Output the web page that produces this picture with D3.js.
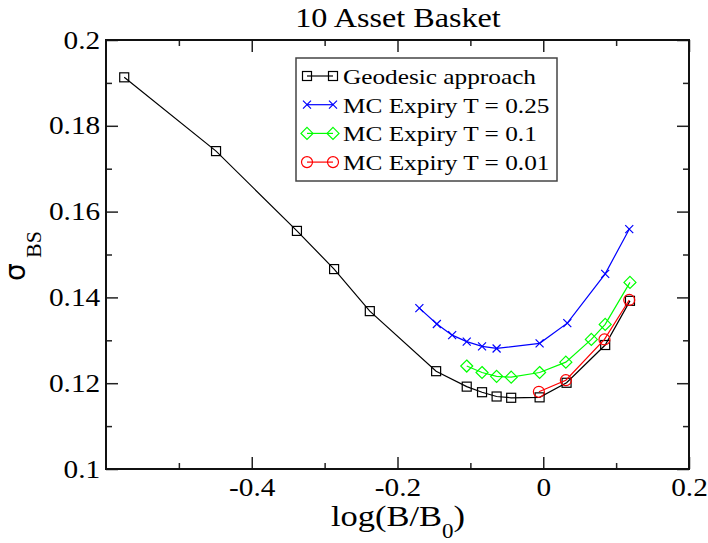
<!DOCTYPE html>
<html>
<head>
<meta charset="utf-8">
<script src="https://cdn.jsdelivr.net/npm/d3@7"></script>
<style>
  body { margin: 0; background: #fff; }
  text { font-family: "Liberation Serif", "Times New Roman", serif; fill: #000; }
</style>
</head>
<body>
<script>
"use strict";

// --- data ---
let geoX  = [-0.575, -0.449, -0.338, -0.287, -0.238, -0.147, -0.105, -0.084, -0.064, -0.044, -0.005, 0.032, 0.085, 0.119];
let geoY  = [0.1913, 0.1741, 0.1555, 0.1466, 0.1368, 0.1228, 0.1192, 0.1179, 0.1169, 0.1166, 0.1167, 0.1201, 0.1289, 0.1392];

let t25X  = [-0.170, -0.146, -0.125, -0.105, -0.084, -0.064, -0.005, 0.033, 0.085, 0.118];
let t25Y  = [0.1375, 0.1338, 0.1312, 0.1297, 0.1286, 0.1281, 0.1293, 0.1340, 0.1455, 0.1559];

let t10X  = [-0.105, -0.084, -0.064, -0.044, -0.005, 0.031, 0.066, 0.085, 0.119];
let t10Y  = [0.1240, 0.1225, 0.1216, 0.1214, 0.1225, 0.1249, 0.1302, 0.1337, 0.1435];

let t01X  = [-0.006, 0.031, 0.084, 0.118];
let t01Y  = [0.1180, 0.1207, 0.1302, 0.1394];

let xMajor = [-0.4, -0.2, 0, 0.2];
let xMinor = [-0.5, -0.3, -0.1, 0.1];
let yMajor = [0.1, 0.12, 0.14, 0.16, 0.18, 0.2];
let yMinor = [0.11, 0.13, 0.15, 0.17, 0.19];

let legendLabels = ['Geodesic approach', 'MC Expiry T = 0.25', 'MC Expiry T = 0.1', 'MC Expiry T = 0.01'];

(function() {

let width = 708;
let height = 543;
let stretch = 1.15;   // glyphs in the picture are wider than Times

let pLeft = 106, pRight = 689, pTop = 40, pBottom = 469;

let x = d3.scaleLinear().domain([-0.6, 0.2]).range([pLeft, pRight]);
let y = d3.scaleLinear().domain([0.1, 0.2]).range([pBottom, pTop]);

let svg = d3.select('body')
    .append('svg')
    .attr('width', width)
    .attr('height', height);

// axes: major ticks with labels, minor ticks, mirrored on top and right
function styleAxis(g) {
    g.select('.domain').remove();
    g.selectAll('line').attr('stroke', '#222').attr('stroke-width', 1.5);
    g.selectAll('text')
        .style('font-size', '25.5px')
        .attr('fill', '#000')
        .attr('transform', 'scale(' + stretch + ',1)');
}

let fmt = function(d) { return String(+d.toFixed(2)); };

svg.append('g')
    .attr('transform', 'translate(0,' + pBottom + ')')
    .call(d3.axisBottom(x).tickValues(xMajor).tickSize(-12).tickSizeOuter(0).tickPadding(9).tickFormat(fmt))
    .call(styleAxis);
svg.append('g')
    .attr('transform', 'translate(0,' + pBottom + ')')
    .call(d3.axisBottom(x).tickValues(xMinor).tickSize(-6).tickSizeOuter(0).tickFormat(''))
    .call(styleAxis);
svg.append('g')
    .attr('transform', 'translate(0,' + pTop + ')')
    .call(d3.axisTop(x).tickValues(xMajor).tickSize(-12).tickSizeOuter(0).tickFormat(''))
    .call(styleAxis);
svg.append('g')
    .attr('transform', 'translate(0,' + pTop + ')')
    .call(d3.axisTop(x).tickValues(xMinor).tickSize(-6).tickSizeOuter(0).tickFormat(''))
    .call(styleAxis);

svg.append('g')
    .attr('transform', 'translate(' + pLeft + ',0)')
    .call(d3.axisLeft(y).tickValues(yMajor).tickSize(-12).tickSizeOuter(0).tickPadding(5).tickFormat(fmt))
    .call(styleAxis);
svg.append('g')
    .attr('transform', 'translate(' + pLeft + ',0)')
    .call(d3.axisLeft(y).tickValues(yMinor).tickSize(-6).tickSizeOuter(0).tickFormat(''))
    .call(styleAxis);
svg.append('g')
    .attr('transform', 'translate(' + pRight + ',0)')
    .call(d3.axisRight(y).tickValues(yMajor).tickSize(-12).tickSizeOuter(0).tickFormat(''))
    .call(styleAxis);
svg.append('g')
    .attr('transform', 'translate(' + pRight + ',0)')
    .call(d3.axisRight(y).tickValues(yMinor).tickSize(-6).tickSizeOuter(0).tickFormat(''))
    .call(styleAxis);

// frame
svg.append('rect')
    .attr('x', pLeft)
    .attr('y', pTop)
    .attr('width', pRight - pLeft)
    .attr('height', pBottom - pTop)
    .attr('fill', 'none')
    .attr('stroke', '#111')
    .attr('stroke-width', 2);

// symbols
let symbols = {
    square: function(g, cx, cy) {
        return g.append('rect').attr('x', cx - 4.5).attr('y', cy - 4.5).attr('width', 9).attr('height', 9);
    },
    cross: function(g, cx, cy) {
        return g.append('path').attr('d', 'M' + (cx - 4) + ',' + (cy - 4) + 'L' + (cx + 4) + ',' + (cy + 4) +
            'M' + (cx - 4) + ',' + (cy + 4) + 'L' + (cx + 4) + ',' + (cy - 4));
    },
    diamond: function(g, cx, cy) {
        return g.append('path').attr('d', 'M' + cx + ',' + (cy - 6) + 'L' + (cx + 6) + ',' + cy +
            'L' + cx + ',' + (cy + 6) + 'L' + (cx - 6) + ',' + cy + 'Z');
    },
    circle: function(g, cx, cy) {
        return g.append('circle').attr('cx', cx).attr('cy', cy).attr('r', 5.5);
    }
};

let series = [
    { xs: geoX, ys: geoY, color: '#000000', sym: 'square' },
    { xs: t25X, ys: t25Y, color: '#0000ff', sym: 'cross' },
    { xs: t10X, ys: t10Y, color: '#00ff00', sym: 'diamond' },
    { xs: t01X, ys: t01Y, color: '#ff0000', sym: 'circle' }
];

let line = d3.line()
    .x(function(d) { return x(d[0]); })
    .y(function(d) { return y(d[1]); });

series.forEach(function(s) {
    let pts = d3.zip(s.xs, s.ys);
    let g = svg.append('g')
        .attr('fill', 'none')
        .attr('stroke', s.color)
        .attr('stroke-width', 1.2);
    g.append('path').attr('d', line(pts));
    pts.forEach(function(p) { symbols[s.sym](g, x(p[0]), y(p[1])); });
});

// legend
let legend = svg.append('g');
legend.append('rect')
    .attr('x', 296)
    .attr('y', 58)
    .attr('width', 261)
    .attr('height', 123)
    .attr('fill', '#fff')
    .attr('stroke', '#444')
    .attr('stroke-width', 1.5);

series.forEach(function(s, i) {
    let ry = 76 + i * 28.7;
    let g = legend.append('g')
        .attr('fill', 'none')
        .attr('stroke', s.color)
        .attr('stroke-width', 1.2);
    g.append('line').attr('x1', 307).attr('x2', 333).attr('y1', ry).attr('y2', ry);
    symbols[s.sym](g, 307, ry);
    symbols[s.sym](g, 333, ry);
    legend.append('text')
        .attr('transform', 'translate(343,' + (ry + 8) + ') scale(' + stretch + ',1)')
        .style('font-size', '22px')
        .text(legendLabels[i]);
});

// title
svg.append('text')
    .attr('transform', 'translate(398,27) scale(' + stretch + ',1)')
    .attr('text-anchor', 'middle')
    .style('font-size', '28px')
    .text('10 Asset Basket');

// x label
let xl = svg.append('text')
    .attr('transform', 'translate(398,526) scale(' + stretch + ',1)')
    .attr('text-anchor', 'middle')
    .style('font-size', '30px');
xl.append('tspan').text('log(B/B');
xl.append('tspan').attr('dy', 12).style('font-size', '20px').text('0');
xl.append('tspan').attr('dy', -12).text(')');

// y label, rotated
let yl = svg.append('g').attr('transform', 'rotate(-90)');
yl.append('text')
    .attr('x', -281)
    .attr('y', 25)
    .style('font-family', '"DejaVu Sans", sans-serif')
    .style('font-size', '28px')
    .text('σ');
yl.append('text')
    .attr('x', -258)
    .attr('y', 41)
    .style('font-size', '22px')
    .text('BS');

})();
</script>
</body>
</html>
